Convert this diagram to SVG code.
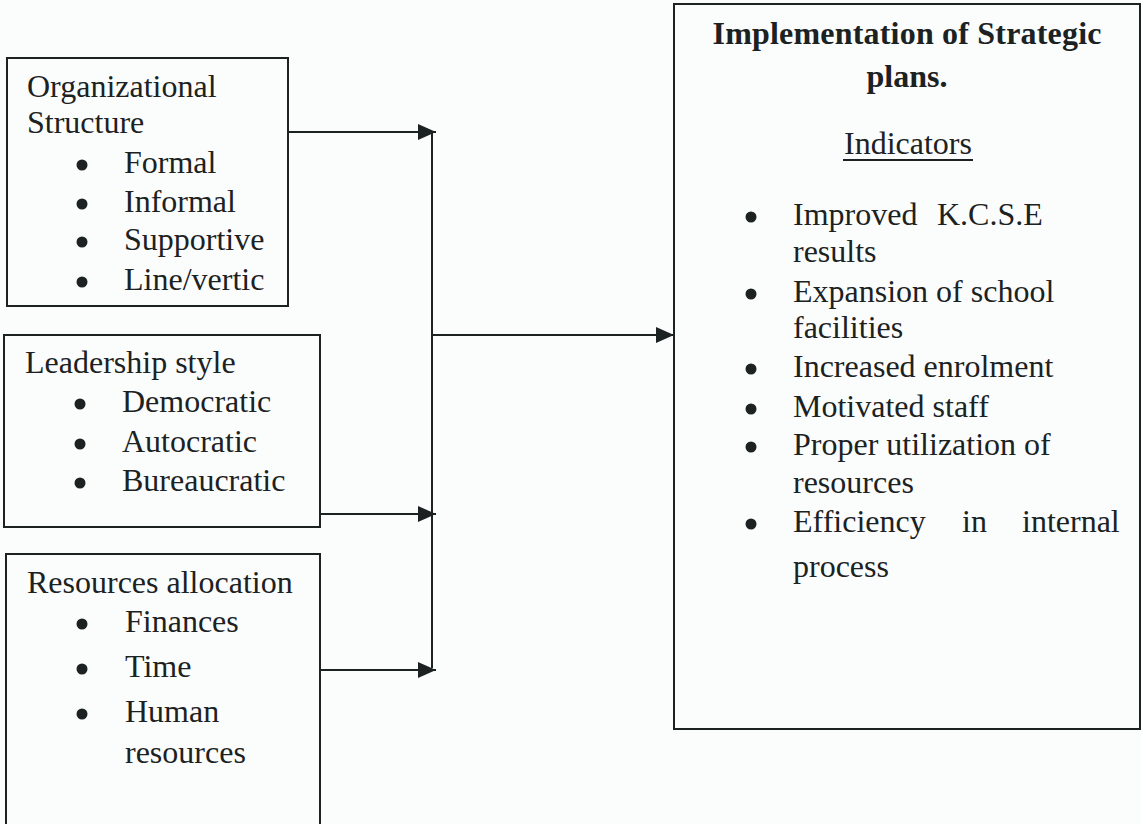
<svg xmlns="http://www.w3.org/2000/svg" width="1141" height="824" viewBox="0 0 1141 824">
<style>
.box{fill:none;stroke:#1c2222;stroke-width:2}
.t{font-family:"Liberation Serif","Times New Roman",serif;font-size:32px;fill:#1c2222}
.b{font-weight:bold}
.c{stroke:#1c2222;stroke-width:2;fill:none}
.dot{fill:#1c2222}
</style>
<defs>
<marker id="ah" markerUnits="userSpaceOnUse" markerWidth="20" markerHeight="20" viewBox="0 0 20 20" refX="18" refY="10" orient="auto">
<path d="M0,2 L18,10 L0,18 Z" fill="#1c2222"/>
</marker>
</defs>
<rect width="1141" height="824" fill="#fbfdfd"/>
<g id="connectors">
<line class="c" x1="288" y1="132" x2="436" y2="132" marker-end="url(#ah)"/>
<line class="c" x1="320" y1="514" x2="436" y2="514" marker-end="url(#ah)"/>
<line class="c" x1="320" y1="670" x2="436" y2="670" marker-end="url(#ah)"/>
<line class="c" x1="432" y1="132" x2="432" y2="668"/>
<line class="c" x1="432" y1="335" x2="674" y2="335" marker-end="url(#ah)"/>
</g>
<g id="org-structure">
<rect class="box" x="7" y="58" width="281" height="248"/>
<text class="t" x="27" y="97">Organizational</text>
<text class="t" x="27" y="133">Structure</text>
<circle class="dot" cx="82" cy="165" r="5.5"/>
<text class="t" x="124" y="173">Formal</text>
<circle class="dot" cx="82" cy="204" r="5.5"/>
<text class="t" x="124" y="212">Informal</text>
<circle class="dot" cx="82" cy="242" r="5.5"/>
<text class="t" x="124" y="250">Supportive</text>
<circle class="dot" cx="82" cy="282" r="5.5"/>
<text class="t" x="124" y="290">Line/vertic</text>
</g>
<g id="leadership-style">
<rect class="box" x="4" y="335" width="316" height="192"/>
<text class="t" x="25" y="373">Leadership style</text>
<circle class="dot" cx="80" cy="404" r="5.5"/>
<text class="t" x="122" y="412">Democratic</text>
<circle class="dot" cx="80" cy="444" r="5.5"/>
<text class="t" x="122" y="452">Autocratic</text>
<circle class="dot" cx="80" cy="483" r="5.5"/>
<text class="t" x="122" y="491">Bureaucratic</text>
</g>
<g id="resources-allocation">
<rect class="box" x="6" y="554" width="314" height="290"/>
<text class="t" x="27" y="593">Resources allocation</text>
<circle class="dot" cx="82" cy="624" r="5.5"/>
<text class="t" x="125" y="632">Finances</text>
<circle class="dot" cx="82" cy="669" r="5.5"/>
<text class="t" x="125" y="677">Time</text>
<circle class="dot" cx="82" cy="714" r="5.5"/>
<text class="t" x="125" y="722">Human</text>
<text class="t" x="125" y="763">resources</text>
</g>
<g id="implementation">
<rect class="box" x="674" y="4" width="466" height="725"/>
<text class="t b" x="907" y="44" text-anchor="middle" textLength="389" lengthAdjust="spacing">Implementation of Strategic</text>
<text class="t b" x="907" y="87" text-anchor="middle">plans.</text>
<text class="t" x="908" y="154" text-anchor="middle">Indicators</text>
<line x1="843" y1="160" x2="973" y2="160" stroke="#1c2222" stroke-width="2"/>
<circle class="dot" cx="751" cy="217" r="5.5"/>
<text class="t" y="225"><tspan x="793">Improved</tspan><tspan x="937">K.C.S.E</tspan></text>
<text class="t" x="793" y="262">results</text>
<circle class="dot" cx="751" cy="294" r="5.5"/>
<text class="t" x="793" y="302">Expansion of school</text>
<text class="t" x="793" y="338">facilities</text>
<circle class="dot" cx="751" cy="369" r="5.5"/>
<text class="t" x="793" y="377">Increased enrolment</text>
<circle class="dot" cx="751" cy="409" r="5.5"/>
<text class="t" x="793" y="417">Motivated staff</text>
<circle class="dot" cx="751" cy="447" r="5.5"/>
<text class="t" x="793" y="455">Proper utilization of</text>
<text class="t" x="793" y="493">resources</text>
<circle class="dot" cx="751" cy="524" r="5.5"/>
<text class="t" y="532"><tspan x="793">Efficiency</tspan><tspan x="962">in</tspan><tspan x="1022">internal</tspan></text>
<text class="t" x="793" y="577">process</text>
</g>
</svg>
